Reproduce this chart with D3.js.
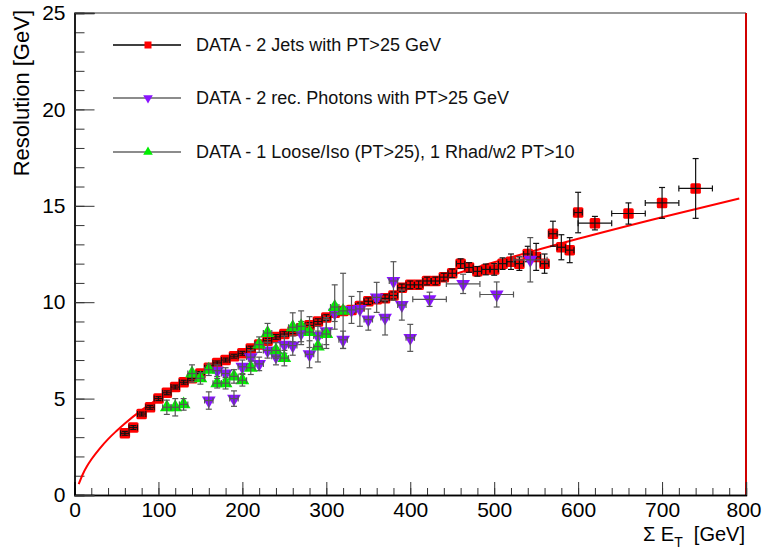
<html>
<head>
	<title>Resolution vs Sum ET</title>
	<meta charset="utf-8">
	<script src="https://d3js.org/d3.v7.min.js"></script>
	<style>
		body { margin: 0; background: #fff; }
		text { font-family: "Liberation Sans", Arial, Helvetica, sans-serif; }
	</style>
</head>
<body>

	<script type="text/javascript">
		var width = 762
		var height = 550

		// DATA - 2 Jets with PT>25 GeV
		var jetX = [60,70,80,90,100,110,120,130,140,150,160,170,180,190,200,210,220,230,240,250,
		            260,270,280,290,300,310,320,330,340,350,360,370,380,390,400,410,420,430,440,450,
		            460,470,480,490,500,510,520,530,540,550,560,570,580,590,600,620,660,700,740]
		var jetY = [3.2,3.5,4.2,4.55,5.0,5.3,5.6,5.85,6.05,6.3,6.6,6.85,7.0,7.2,7.35,7.6,7.8,8.0,8.2,8.35,
		            8.5,8.65,8.8,9.0,9.2,9.45,9.55,9.6,9.8,10.05,10.15,10.2,10.35,10.75,10.9,10.9,11.1,11.1,11.3,11.5,
		            12.0,11.8,11.6,11.7,11.7,12.0,12.1,12.0,12.5,12.35,12.0,13.55,12.85,12.7,14.65,14.1,14.6,15.15,15.9]
		var jetYErr = [0.1,0.1,0.1,0.1,0.1,0.1,0.1,0.1,0.1,0.1,0.1,0.1,0.1,0.1,0.1,0.12,0.12,0.12,0.12,0.12,
		               0.13,0.13,0.14,0.14,0.15,0.15,0.15,0.16,0.16,0.17,0.17,0.18,0.18,0.19,0.2,0.2,0.2,0.2,0.2,0.22,
		               0.25,0.25,0.25,0.28,0.3,0.3,0.4,0.35,0.4,0.7,0.5,0.65,0.65,0.65,1.05,0.35,0.55,0.8,1.55]
		var jetXErr = [5,5,5,5,5,5,5,5,5,5,5,5,5,5,5,5,5,5,5,5,
		               5,5,5,5,5,5,5,5,5,5,5,5,5,5,5,5,5,5,5,5,
		               5,5,5,5,5,5,5,5,5,5,5,5,5,5,5,20,20,20,20]

		// DATA - 2 rec. Photons with PT>25 GeV
		var phoX = [160,170,180,190,200,210,220,230,240,250,260,270,280,290,300,310,320,330,340,350,360,370,380,390,400,423,463,503,543]
		var phoY = [4.9,6.45,6.3,5.0,6.65,7.15,6.8,7.5,7.2,7.8,7.75,8.4,7.3,8.25,8.5,9.45,8.05,9.6,9.65,9.1,10.25,9.2,11.1,9.85,8.15,10.15,10.95,10.4,12.2]
		var phoYErr = [0.45,0.3,0.3,0.4,0.35,0.35,0.35,0.4,0.45,0.45,0.5,0.6,0.7,0.5,0.7,0.45,0.45,0.7,0.9,0.55,0.78,0.9,1.0,0.78,0.7,0.37,0.5,0.65,1.15]
		var phoXErr = [5,5,5,5,5,5,5,5,5,5,5,5,5,5,5,5,5,5,5,5,5,5,5,5,5,20,20,20,20]

		// DATA - 1 Loose/Iso (PT>25), 1 Rhad/w2 PT>10
		var looseX = [110,120,130,140,150,160,170,180,190,200,210,220,230,240,250,260,270,280,290,300,310,320]
		var looseY = [4.55,4.55,4.7,6.3,6.05,6.5,5.8,5.8,6.15,5.95,6.6,7.8,8.4,7.5,7.1,8.7,8.75,8.45,7.7,8.35,9.75,9.55]
		var looseYErr = [0.37,0.45,0.3,0.45,0.3,0.3,0.25,0.3,0.35,0.3,0.35,0.4,0.5,0.4,0.4,0.75,0.8,0.8,0.8,0.75,1.15,1.95]
		var looseXErr = [5,5,5,5,5,5,5,5,5,5,5,5,5,5,5,5,5,5,5,5,5,5]

		// fitted curve
		var fitX = [5,10,15,20,30,40,50,60,80,100,150,200,300,400,500,600,700,792]
		var fitY = [0.56,1.09,1.5,1.84,2.41,2.9,3.32,3.71,4.4,5.0,6.29,7.37,9.19,10.72,12.07,13.29,14.41,15.38]

		var legendLabels = ["DATA - 2 Jets with PT>25 GeV",
		                    "DATA - 2 rec. Photons with PT>25 GeV",
		                    "DATA - 1 Loose/Iso (PT>25), 1 Rhad/w2 PT>10"]

		var xMajor = d3.range(0, 801, 100)
		var xMinor = d3.range(0, 801, 20)
		var yMajor = d3.range(0, 26, 5)
		var yMinor = d3.range(0, 26, 1)

		// note: "top" is reserved on window, so use frame* names
		var frameL = 74.5, frameR = 746, frameT = 13, frameB = 495

		var svg = d3.select("body").append("svg")
		  .attr("width", width)
		  .attr("height", height)

		var x = d3.scaleLinear().domain([0, 800]).range([frameL, frameR])
		var y = d3.scaleLinear().domain([0, 25]).range([frameB, frameT])

		// frame: top line and red right edge
		svg.append("line")
			.attr("x1", frameL).attr("x2", frameR)
			.attr("y1", frameT).attr("y2", frameT)
			.attr("stroke", "#333").attr("stroke-width", 1.2)
		svg.append("line")
			.attr("x1", frameR).attr("x2", frameR)
			.attr("y1", frameT).attr("y2", frameB)
			.attr("stroke", "#d00000").attr("stroke-width", 2)

		// axes, ticks pointing inwards like ROOT
		svg.append("g")
			.attr("transform", "translate(0," + frameB + ")")
			.call(d3.axisBottom(x).tickValues(xMinor).tickSize(-7).tickFormat(""))
		var xAxis = svg.append("g")
			.attr("transform", "translate(0," + frameB + ")")
			.call(d3.axisBottom(x).tickValues(xMajor).tickSize(-13).tickPadding(7).tickFormat(d3.format("d")))
		svg.append("g")
			.attr("transform", "translate(" + frameL + ",0)")
			.call(d3.axisLeft(y).tickValues(yMinor).tickSize(-10).tickFormat(""))
		svg.append("g")
			.attr("transform", "translate(" + frameL + ",0)")
			.call(d3.axisLeft(y).tickValues(yMajor).tickSize(-20).tickPadding(9).tickFormat(d3.format("d")))

		svg.selectAll(".domain").attr("stroke", "#000").attr("stroke-width", 1.3)
		svg.selectAll(".tick line").attr("stroke", "#333")
		svg.selectAll(".tick text").attr("font-size", 21).attr("fill", "#000")
			.style("font-family", "'Liberation Sans', Arial, Helvetica, sans-serif")

		// keep the last x label inside the page
		xAxis.selectAll(".tick text").filter(d=>d == 800)
			.attr("text-anchor", "end").attr("x", 15)

		// axis titles
		svg.append("text")
			.attr("transform", "translate(29,10) rotate(-90)")
			.attr("text-anchor", "end")
			.attr("font-size", 22)
			.text("Resolution [GeV]")

		var xt = svg.append("text")
			.attr("x", 745).attr("y", 541)
			.attr("text-anchor", "end")
			.attr("font-size", 20)
		xt.append("tspan").text("\u03A3 E")
		xt.append("tspan").attr("font-size", 14).attr("dy", 6).text("T")
		xt.append("tspan").attr("dy", -6).text("\u00A0 [GeV]")

		// fit curve
		var fitPts = fitX.map(function(v, i) {return [v, fitY[i]]})
		svg.append("path")
			.datum(fitPts)
			.attr("fill", "none")
			.attr("stroke", "#ff0000")
			.attr("stroke-width", 2)
			.attr("d", d3.line().x(d=>x(d[0])).y(d=>y(d[1])).curve(d3.curveMonotoneX))

		function zip(xs, ys, yes, xes) {
			return xs.map(function(v, i) {return {x: v, y: ys[i], ey: yes[i], ex: xes[i]}})
		}

		var symUp = d3.symbol().type(d3.symbolTriangle)

		function drawSeries(data, color, barColor, kind, size) {
			var g = svg.append("g")
			var pts = g.selectAll("g").data(data).enter().append("g")
				.attr("transform", d=>"translate(" + x(d.x) + "," + y(d.y) + ")")

			if (kind == "square") {
				pts.append("rect")
					.attr("x", -size/2).attr("y", -size/2)
					.attr("width", size).attr("height", size)
					.attr("rx", 1.5)
					.attr("fill", color)
			} else {
				pts.append("path")
					.attr("d", symUp.size(size*size*0.45))
					.attr("transform", kind == "down" ? "rotate(180)" : null)
					.attr("fill", color)
			}

			// error bars drawn over the markers
			var bars = g.selectAll("g.err").data(data).enter().append("g")
				.attr("stroke", barColor).attr("stroke-width", 1.2)
			bars.append("line")
				.attr("x1", d=>x(d.x)).attr("x2", d=>x(d.x))
				.attr("y1", d=>y(d.y + d.ey)).attr("y2", d=>y(d.y - d.ey))
			bars.append("line")
				.attr("x1", d=>x(d.x) - 3).attr("x2", d=>x(d.x) + 3)
				.attr("y1", d=>y(d.y + d.ey)).attr("y2", d=>y(d.y + d.ey))
			bars.append("line")
				.attr("x1", d=>x(d.x) - 3).attr("x2", d=>x(d.x) + 3)
				.attr("y1", d=>y(d.y - d.ey)).attr("y2", d=>y(d.y - d.ey))
			bars.append("line")
				.attr("x1", d=>x(d.x - d.ex)).attr("x2", d=>x(d.x + d.ex))
				.attr("y1", d=>y(d.y)).attr("y2", d=>y(d.y))
			bars.append("line")
				.attr("x1", d=>x(d.x - d.ex)).attr("x2", d=>x(d.x - d.ex))
				.attr("y1", d=>y(d.y) - 3).attr("y2", d=>y(d.y) + 3)
			bars.append("line")
				.attr("x1", d=>x(d.x + d.ex)).attr("x2", d=>x(d.x + d.ex))
				.attr("y1", d=>y(d.y) - 3).attr("y2", d=>y(d.y) + 3)
		}

		drawSeries(zip(jetX, jetY, jetYErr, jetXErr), "#ff0000", "#111", "square", 10.5)
		drawSeries(zip(phoX, phoY, phoYErr, phoXErr), "#8a14ff", "#555", "down", 13.5)
		drawSeries(zip(looseX, looseY, looseYErr, looseXErr), "#00ee00", "#555", "up", 13.5)

		// legend
		var legColors = ["#ff0000", "#8a14ff", "#00ee00"]
		var legLine = ["#000", "#666", "#666"]
		var legKinds = ["square", "down", "up"]
		var legY = [45, 98, 152]
		legendLabels.forEach(function(lab, i) {
			svg.append("line")
				.attr("x1", 113).attr("x2", 181)
				.attr("y1", legY[i]).attr("y2", legY[i])
				.attr("stroke", legLine[i]).attr("stroke-width", 1.3)
			if (legKinds[i] == "square") {
				svg.append("rect")
					.attr("x", 144.5).attr("y", legY[i] - 3.5)
					.attr("width", 7).attr("height", 7)
					.attr("fill", legColors[i])
			} else {
				svg.append("path")
					.attr("d", symUp.size(40))
					.attr("transform", "translate(148," + legY[i] + ")" + (legKinds[i] == "down" ? " rotate(180)" : ""))
					.attr("fill", legColors[i])
			}
			svg.append("text")
				.attr("x", 196).attr("y", legY[i] + 6)
				.attr("font-size", 18)
				.attr("fill", "#111")
				.text(lab)
		})
	</script>
</body>
</html>
